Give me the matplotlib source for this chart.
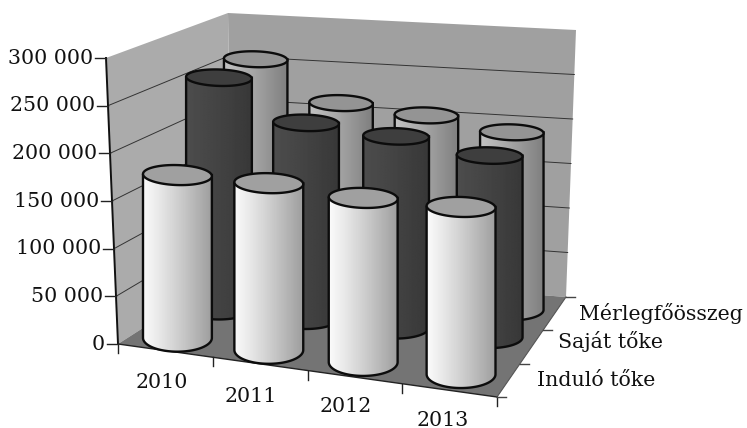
import numpy as np
import matplotlib
matplotlib.use("Agg")
import matplotlib.pyplot as plt
from matplotlib.patches import Polygon

categories = ["2010", "2011", "2012", "2013"]
series_names = ["Induló tőke", "Saját tőke", "Mérlegfőösszeg"]
indulo = [173000, 176000, 172000, 174000]
sajat = [255000, 214000, 208000, 196000]
merleg = [259000, 216000, 209000, 197000]
value_ticks = [0, 50000, 100000, 150000, 200000, 250000, 300000]
tick_labels = ["0", "50 000", "100 000", "150 000", "200 000", "250 000", "300 000"]

ZMAX = 300000.0
NC, ND = 4.0, 3.0
# screen position of the 8 corners of the 3D box (cat, depth, value)
C = {
    (0, 0, 0): (118, 344), (1, 0, 0): (497, 397),
    (0, 1, 0): (232, 271), (1, 1, 0): (566, 297),
    (0, 0, 1): (106, 58),  (1, 0, 1): (508, 103),
    (0, 1, 1): (228, 13),  (1, 1, 1): (576, 30),
}
# horizontal perspective correction of the near rows, per category
NEAR_SHIFT = [-6, -7.5, -6, -1]


def P(c, d, z):
    """Trilinear projection of (category, depth, value) to the screen."""
    u, v, w = c / NC, d / ND, z / ZMAX
    x = y = 0.0
    for (i, j, k), (px, py) in C.items():
        f = (u if i else 1 - u) * (v if j else 1 - v) * (w if k else 1 - w)
        x += f * px
        y += f * py
    return x, y


fig = plt.figure(figsize=(7.47, 4.28), dpi=100)
ax = fig.add_axes([0, 0, 1, 1])
FONT = "DejaVu Serif"
FS = 14.8

# walls and floor
ax.add_patch(Polygon([P(0, 0, 0), P(0, 3, 0), P(0, 3, ZMAX), P(0, 0, ZMAX)], fc="#ababab", ec="none", zorder=1))
ax.add_patch(Polygon([P(0, 3, 0), P(4, 3, 0), P(4, 3, ZMAX), P(0, 3, ZMAX)], fc="#a0a0a0", ec="none", zorder=1))
ax.add_patch(Polygon([P(0, 0, 0), P(4, 0, 0), P(4, 3, 0), P(0, 3, 0)], fc="#747474", ec="none", zorder=1))

# gridlines
for v in value_ticks[1:-1]:
    pts = [P(0, 0, v), P(0, 3, v), P(4, 3, v)]
    ax.plot(*zip(*pts), color="#333333", lw=0.7, zorder=2)

# axes lines, ticks
ax.plot(*zip(P(0, 0, 0), P(0, 0, ZMAX)), color="#111111", lw=1.4, zorder=3)
ax.plot(*zip(P(0, 0, 0), P(4, 0, 0)), color="#222222", lw=1.0, zorder=3)
ax.plot(*zip(P(4, 0, 0), P(4, 3, 0)), color="#555555", lw=0.8, zorder=3)
for v, lab in zip(value_ticks, tick_labels):
    x, y = P(0, 0, v)
    ax.plot([x - 11, x], [y, y], color="#222222", lw=1.0, zorder=3)
    ax.text(x - 13, y, lab, ha="right", va="center", family=FONT, fontsize=FS, color="#111111")
for i in range(5):
    x, y = P(i, 0, 0)
    ax.plot([x, x], [y, y + 9], color="#222222", lw=1.0, zorder=3)
for j in range(4):
    x, y = P(4, j, 0)
    ax.plot([x, x + 9], [y, y], color="#444444", lw=1.0, zorder=3)

# category and series labels
cat_pos = [(162, 383), (251, 396), (346, 407), (443, 420)]
for lab, (x, y) in zip(categories, cat_pos):
    ax.text(x, y, lab, ha="center", va="center", family=FONT, fontsize=FS, color="#111111")
ser_pos = [(537, 380), (558, 341), (579, 313)]
for lab, (x, y) in zip(series_names, ser_pos):
    ax.text(x, y, lab, ha="left", va="center", family=FONT, fontsize=FS, color="#111111")


def cylinder(c, d, val, left, right, top, z, kt, kb, shift):
    r = 0.36
    x0, y0 = P(c, d, 0)
    x0 += shift
    _, y1 = P(c, d, val)
    a = (P(c + r, d, 0)[0] - P(c - r, d, 0)[0]) / 2 + 1
    bt, bb = a * kt, a * kb
    t = np.linspace(0, np.pi, 60)
    outline = np.column_stack([np.r_[x0 + a, x0 + a * np.cos(t), x0 - a],
                               np.r_[y1, y0 + bb * np.sin(t), y1]])
    body = Polygon(outline, closed=True, fc="none", ec="none", zorder=z)
    ax.add_patch(body)
    g = np.linspace(0, 1, 64) ** 1.1
    row = (1 - g) * left + g * right
    im = ax.imshow(row[None, :], extent=[x0 - a, x0 + a, y0 + bb, y1], cmap="gray", vmin=0, vmax=1,
                   aspect="auto", zorder=z, interpolation="bilinear")
    im.set_clip_path(body)
    ax.plot(outline[:, 0], outline[:, 1], color="#0c0c0c", lw=1.7, zorder=z + 0.1)
    tt = np.linspace(0, 2 * np.pi, 100)
    ex = x0 + a * np.cos(tt)
    ey = y1 + bt * np.sin(tt) + 0.03 * a * np.cos(tt)
    ax.add_patch(Polygon(np.column_stack([ex, ey]), fc=top, ec="#0c0c0c", lw=1.7, zorder=z + 0.2))


rows = [
    (merleg, 2.5, 0.76, 0.50, "#949494", 10, 0.25, 0.33, 0),
    (sajat, 1.65, 0.30, 0.22, "#3e3e3e", 20, 0.25, 0.33, 1),
    (indulo, 0.5, 0.98, 0.62, "#a0a0a0", 30, 0.29, 0.40, 1),
]
for vals, d, left, right, top, z, kt, kb, near in rows:
    for i, val in enumerate(vals):
        cylinder(i + 0.5, d, val, left, right, top, z + i, kt, kb, near * NEAR_SHIFT[i])

ax.set_xlim(0, 747)
ax.set_ylim(428, 0)
ax.axis("off")
fig.savefig("out.png", dpi=100)
